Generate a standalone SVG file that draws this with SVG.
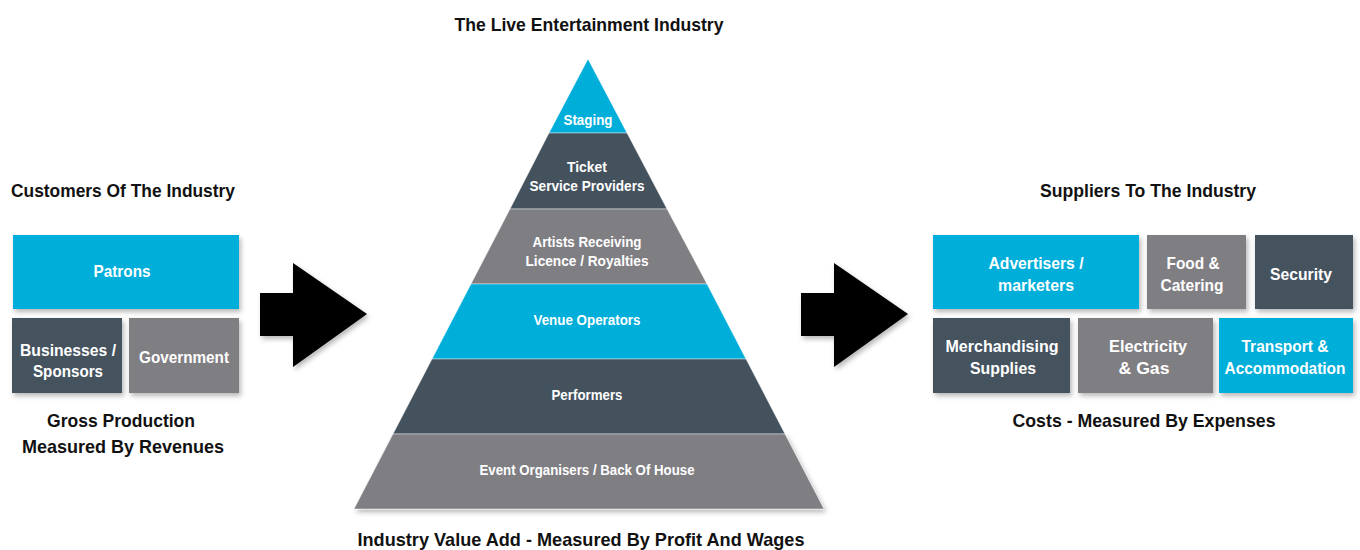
<svg xmlns="http://www.w3.org/2000/svg" width="1360" height="550" viewBox="0 0 1360 550">
  <defs>
    <filter id="shadow" x="-10%" y="-10%" width="125%" height="130%">
      <feDropShadow dx="2" dy="3" stdDeviation="2.5" flood-color="#000" flood-opacity="0.28"/>
    </filter>
    <style>
      .cyan { fill: #00AEDA; }
      .dark { fill: #44525E; }
      .gray { fill: #7F7E83; }
      .box { filter: url(#shadow); }
      .band { stroke: #ffffff; stroke-width: 0.6; stroke-opacity: 0.7; }
      .head { font-family: "Liberation Sans", Arial, sans-serif; font-weight: bold; font-size: 19px; fill: #111; text-anchor: middle; }
      .lbl { font-family: "Liberation Sans", Arial, sans-serif; font-weight: bold; font-size: 17px; fill: #ffffff; text-anchor: middle; }
      .plbl { font-family: "Liberation Sans", Arial, sans-serif; font-weight: bold; font-size: 15px; fill: #ffffff; text-anchor: middle; }
      .arrow { fill: #000; filter: url(#shadow); }
    </style>
  </defs>

  <!-- Headings -->
  <g id="headings">
    <text class="head" x="589" y="31" textLength="269" lengthAdjust="spacingAndGlyphs">The Live Entertainment Industry</text>
    <text class="head" x="123" y="197" textLength="224" lengthAdjust="spacingAndGlyphs">Customers Of The Industry</text>
    <text class="head" x="1148" y="197" textLength="216" lengthAdjust="spacingAndGlyphs">Suppliers To The Industry</text>
    <text class="head" x="121" y="427" textLength="148" lengthAdjust="spacingAndGlyphs">Gross Production</text>
    <text class="head" x="123" y="453" textLength="202" lengthAdjust="spacingAndGlyphs">Measured By Revenues</text>
    <text class="head" x="1144" y="427" textLength="263" lengthAdjust="spacingAndGlyphs">Costs - Measured By Expenses</text>
    <text class="head" x="581" y="546" textLength="447" lengthAdjust="spacingAndGlyphs">Industry Value Add - Measured By Profit And Wages</text>
  </g>

  <!-- Customers -->
  <g id="patrons">
    <rect class="cyan box" x="13" y="235" width="226" height="74"/>
    <text class="lbl" x="122" y="277" textLength="57" lengthAdjust="spacingAndGlyphs">Patrons</text>
  </g>
  <g id="businesses">
    <rect class="dark box" x="12" y="318" width="110" height="75"/>
    <text class="lbl" x="68" y="356" textLength="96" lengthAdjust="spacingAndGlyphs">Businesses /</text>
    <text class="lbl" x="68" y="377" textLength="70" lengthAdjust="spacingAndGlyphs">Sponsors</text>
  </g>
  <g id="government">
    <rect class="gray box" x="129" y="318" width="110" height="75"/>
    <text class="lbl" x="184" y="363" textLength="90" lengthAdjust="spacingAndGlyphs">Government</text>
  </g>

  <!-- Pyramid -->
  <g id="staging">
    <polygon class="cyan band" points="588,59 627,133 549,133"/>
    <text class="plbl" x="588" y="125" textLength="49" lengthAdjust="spacingAndGlyphs">Staging</text>
  </g>
  <g id="ticket">
    <polygon class="dark band" points="549,133 627,133 667,209 510,209"/>
    <text class="plbl" x="587" y="172" textLength="40" lengthAdjust="spacingAndGlyphs">Ticket</text>
    <text class="plbl" x="587" y="191" textLength="115" lengthAdjust="spacingAndGlyphs">Service Providers</text>
  </g>
  <g id="artists">
    <polygon class="gray band" points="510,209 667,209 707,284 471,284"/>
    <text class="plbl" x="587" y="247" textLength="109" lengthAdjust="spacingAndGlyphs">Artists Receiving</text>
    <text class="plbl" x="587" y="266" textLength="123" lengthAdjust="spacingAndGlyphs">Licence / Royalties</text>
  </g>
  <g id="venue">
    <polygon class="cyan band" points="471,284 707,284 746,359 432,359"/>
    <text class="plbl" x="587" y="325" textLength="107" lengthAdjust="spacingAndGlyphs">Venue Operators</text>
  </g>
  <g id="performers">
    <polygon class="dark band" points="432,359 746,359 785,434 393,434"/>
    <text class="plbl" x="587" y="400" textLength="71" lengthAdjust="spacingAndGlyphs">Performers</text>
  </g>
  <g id="organisers">
    <polygon class="gray band" points="393,434 785,434 824,509 354,509" style="filter:url(#shadow)"/>
    <text class="plbl" x="587" y="475" textLength="215" lengthAdjust="spacingAndGlyphs">Event Organisers / Back Of House</text>
  </g>

  <!-- Suppliers -->
  <g id="advertisers">
    <rect class="cyan box" x="933" y="235" width="206" height="74"/>
    <text class="lbl" x="1036" y="269" textLength="95" lengthAdjust="spacingAndGlyphs">Advertisers /</text>
    <text class="lbl" x="1036" y="291" textLength="76" lengthAdjust="spacingAndGlyphs">marketers</text>
  </g>
  <g id="food">
    <rect class="gray box" x="1147" y="235" width="99" height="74"/>
    <text class="lbl" x="1193" y="269" textLength="53" lengthAdjust="spacingAndGlyphs">Food &amp;</text>
    <text class="lbl" x="1192" y="291" textLength="63" lengthAdjust="spacingAndGlyphs">Catering</text>
  </g>
  <g id="security">
    <rect class="dark box" x="1255" y="235" width="98" height="74"/>
    <text class="lbl" x="1301" y="280" textLength="62" lengthAdjust="spacingAndGlyphs">Security</text>
  </g>
  <g id="merchandising">
    <rect class="dark box" x="933" y="318" width="137" height="75"/>
    <text class="lbl" x="1002" y="352" textLength="113" lengthAdjust="spacingAndGlyphs">Merchandising</text>
    <text class="lbl" x="1003" y="374" textLength="66" lengthAdjust="spacingAndGlyphs">Supplies</text>
  </g>
  <g id="electricity">
    <rect class="gray box" x="1078" y="318" width="135" height="75"/>
    <text class="lbl" x="1148" y="352" textLength="78" lengthAdjust="spacingAndGlyphs">Electricity</text>
    <text class="lbl" x="1144" y="374" textLength="51" lengthAdjust="spacingAndGlyphs">&amp; Gas</text>
  </g>
  <g id="transport">
    <rect class="cyan box" x="1219" y="318" width="134" height="75"/>
    <text class="lbl" x="1285" y="352" textLength="87" lengthAdjust="spacingAndGlyphs">Transport &amp;</text>
    <text class="lbl" x="1285" y="374" textLength="121" lengthAdjust="spacingAndGlyphs">Accommodation</text>
  </g>

  <!-- Flow arrows -->
  <g id="connectors">
    <polygon class="arrow" points="260,293 293,293 293,263 367,314 293,367 293,336 260,336"/>
    <polygon class="arrow" points="801,293 834,293 834,263 908,314 834,367 834,336 801,336"/>
  </g>
</svg>
